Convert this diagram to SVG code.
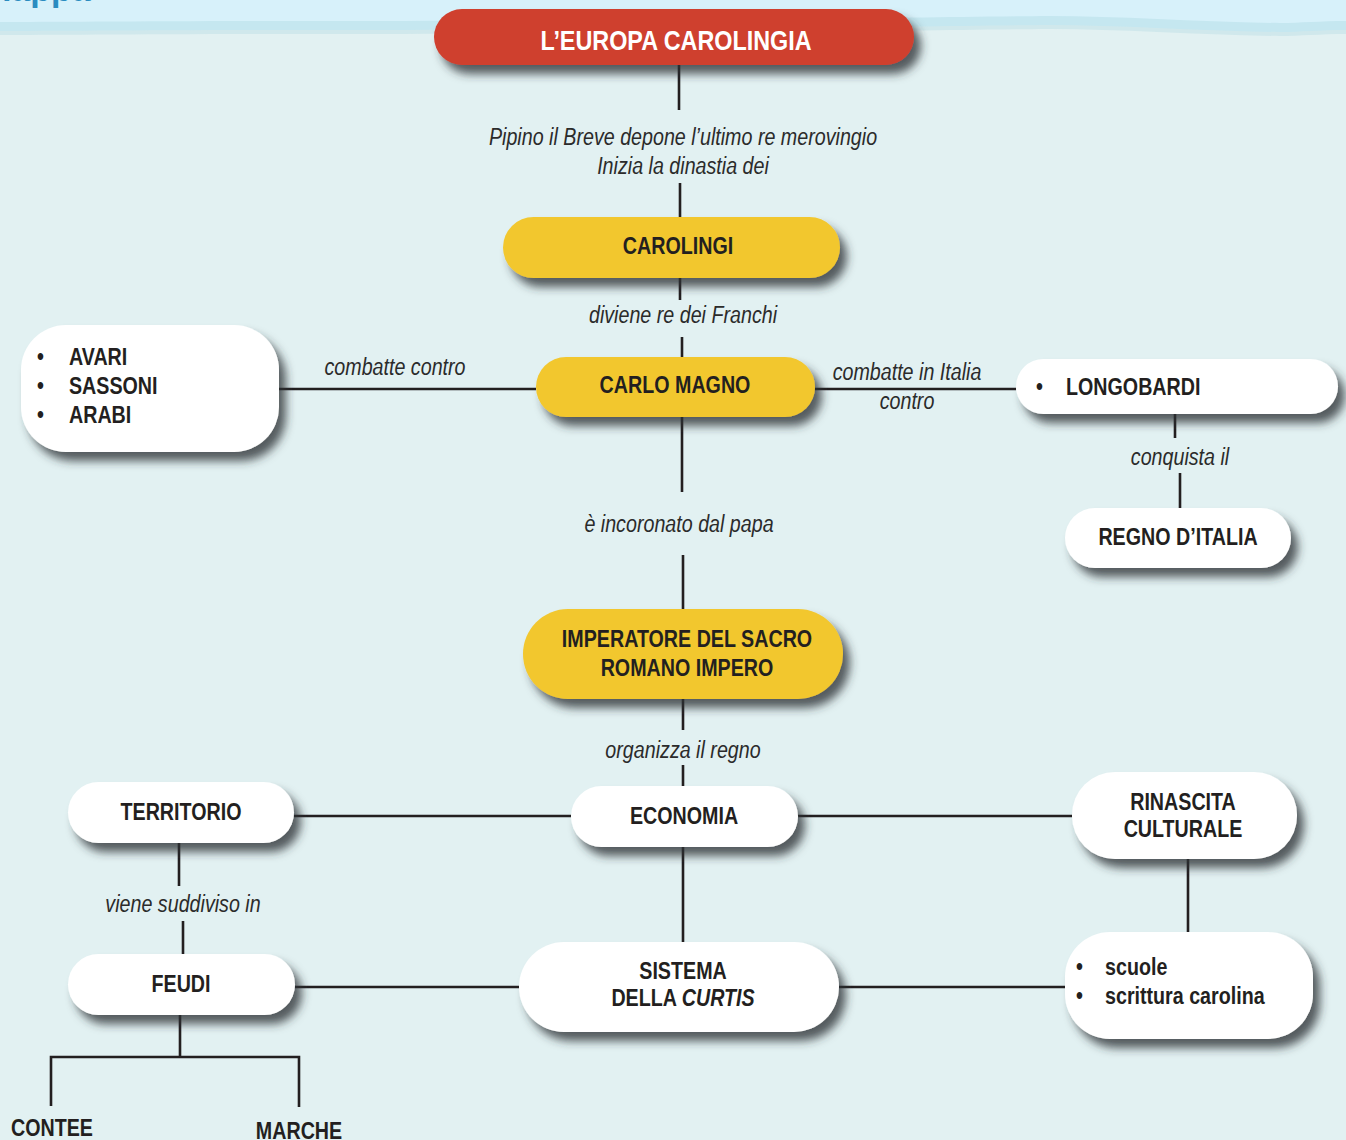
<svg xmlns="http://www.w3.org/2000/svg" xmlns:xlink="http://www.w3.org/1999/xlink" width="1346" height="1140" viewBox="0 0 1346 1140">
<defs>
<style>
.ln{stroke:#231f20;stroke-width:2.6;fill:none}
.nt{font-family:"Liberation Sans",Arial,sans-serif;font-weight:bold;font-size:24px;fill:#231f20;text-anchor:middle}
.lt{text-anchor:start}
.lb{font-family:"Liberation Sans",Arial,sans-serif;font-style:italic;font-size:24px;fill:#2b2b2b;text-anchor:middle}
.w{fill:#ffffff}
.y{fill:#f2c72f}
.r{fill:#cf3f2e}
</style>
<filter id="sh" x="-15%" y="-30%" width="140%" height="180%">
<feDropShadow dx="7" dy="9" stdDeviation="5" flood-color="#2c3234" flood-opacity="0.78"/>
</filter>
<path id="wave" d="M0,-40 H1346 V21 C1320,21 1300,23 1280,23 C1200,22 1120,16 1050,16 C950,17 900,18 800,19 C600,20 450,21 300,21 C150,21 50,22 0,22 Z"/>
</defs>

<rect x="0" y="0" width="1346" height="1140" fill="#e2f1f2"/>
<use xlink:href="#wave" fill="#d0e8ec" transform="translate(0,13)"/>
<use xlink:href="#wave" fill="#c5e7f0" transform="translate(0,9)"/>
<use xlink:href="#wave" fill="#d7f1fa"/>
<text x="-19" y="1" font-family="Liberation Sans,Arial,sans-serif" font-weight="bold" font-size="34" fill="#2a8cc0">mappa</text>

<g id="connectors">
<line class="ln" x1="679" y1="65" x2="679" y2="110"/>
<line class="ln" x1="680" y1="183" x2="680" y2="217"/>
<line class="ln" x1="680" y1="278" x2="680" y2="300"/>
<line class="ln" x1="682" y1="337" x2="682" y2="357"/>
<line class="ln" x1="279" y1="389" x2="536" y2="389"/>
<line class="ln" x1="815" y1="389" x2="1016" y2="389"/>
<line class="ln" x1="682" y1="417" x2="682" y2="492"/>
<line class="ln" x1="683" y1="555" x2="683" y2="609"/>
<line class="ln" x1="1175" y1="414" x2="1175" y2="438"/>
<line class="ln" x1="1180" y1="473" x2="1180" y2="508"/>
<line class="ln" x1="683" y1="699" x2="683" y2="730"/>
<line class="ln" x1="683" y1="765" x2="683" y2="786"/>
<line class="ln" x1="294" y1="816" x2="571" y2="816"/>
<line class="ln" x1="798" y1="816" x2="1072" y2="816"/>
<line class="ln" x1="683" y1="847" x2="683" y2="942"/>
<line class="ln" x1="1188" y1="859" x2="1188" y2="932"/>
<line class="ln" x1="179" y1="843" x2="179" y2="886"/>
<line class="ln" x1="183" y1="921" x2="183" y2="954"/>
<line class="ln" x1="295" y1="987" x2="519" y2="987"/>
<line class="ln" x1="839" y1="987" x2="1065" y2="987"/>
<path class="ln" d="M180,1015 V1057 M51,1106 V1057 H299 V1107"/>

<text class="lb" transform="translate(683,145) scale(0.82,1)">Pipino il Breve depone l’ultimo re merovingio</text>
<text class="lb" transform="translate(683,174) scale(0.82,1)">Inizia la dinastia dei</text>
<text class="lb" transform="translate(683,323) scale(0.82,1)">diviene re dei Franchi</text>
<text class="lb" transform="translate(395,375) scale(0.82,1)">combatte contro</text>
<text class="lb" transform="translate(907,380) scale(0.82,1)">combatte in Italia</text>
<text class="lb" transform="translate(907,409) scale(0.82,1)">contro</text>
<text class="lb" transform="translate(1180,465) scale(0.82,1)">conquista il</text>
<text class="lb" transform="translate(679,532) scale(0.82,1)">è incoronato dal papa</text>
<text class="lb" transform="translate(683,758) scale(0.82,1)">organizza il regno</text>
<text class="lb" transform="translate(183,912) scale(0.82,1)">viene suddiviso in</text>
</g>

<g id="n-title">
<rect class="r" x="434" y="9" width="480" height="56" rx="28" filter="url(#sh)"/>
<text class="nt" style="font-size:28.5px;fill:#fff" transform="translate(676,50) scale(0.82,1)">L’EUROPA CAROLINGIA</text>
</g>

<g id="n-carolingi">
<rect class="y" x="503" y="217" width="337" height="61" rx="30.5" filter="url(#sh)"/>
<text class="nt" transform="translate(678,254) scale(0.82,1)">CAROLINGI</text>
</g>

<g id="n-carlo">
<rect class="y" x="536" y="357" width="279" height="60" rx="30" filter="url(#sh)"/>
<text class="nt" transform="translate(675,393) scale(0.82,1)">CARLO MAGNO</text>
</g>

<g id="n-avari">
<rect class="w" x="21" y="325" width="258" height="127" rx="45" filter="url(#sh)"/>
<text class="nt lt" transform="translate(37,365) scale(0.82,1)">•</text>
<text class="nt lt" transform="translate(69,365) scale(0.82,1)">AVARI</text>
<text class="nt lt" transform="translate(37,394) scale(0.82,1)">•</text>
<text class="nt lt" transform="translate(69,394) scale(0.82,1)">SASSONI</text>
<text class="nt lt" transform="translate(37,423) scale(0.82,1)">•</text>
<text class="nt lt" transform="translate(69,423) scale(0.82,1)">ARABI</text>
</g>

<g id="n-longobardi">
<rect class="w" x="1016" y="359" width="322" height="55" rx="27.5" filter="url(#sh)"/>
<text class="nt lt" transform="translate(1036,395) scale(0.82,1)">•</text>
<text class="nt lt" transform="translate(1066,395) scale(0.82,1)">LONGOBARDI</text>
</g>

<g id="n-regno">
<rect class="w" x="1065" y="508" width="226" height="60" rx="30" filter="url(#sh)"/>
<text class="nt" transform="translate(1178,545) scale(0.82,1)">REGNO D’ITALIA</text>
</g>

<g id="n-imperatore">
<rect class="y" x="523" y="609" width="320" height="90" rx="45" filter="url(#sh)"/>
<text class="nt" transform="translate(687,647) scale(0.82,1)">IMPERATORE DEL SACRO</text>
<text class="nt" transform="translate(687,676) scale(0.82,1)">ROMANO IMPERO</text>
</g>

<g id="n-economia">
<rect class="w" x="571" y="786" width="227" height="61" rx="30.5" filter="url(#sh)"/>
<text class="nt" transform="translate(684,824) scale(0.82,1)">ECONOMIA</text>
</g>

<g id="n-territorio">
<rect class="w" x="68" y="782" width="226" height="61" rx="30.5" filter="url(#sh)"/>
<text class="nt" transform="translate(181,820) scale(0.82,1)">TERRITORIO</text>
</g>

<g id="n-rinascita">
<rect class="w" x="1072" y="772" width="225" height="87" rx="43" filter="url(#sh)"/>
<text class="nt" transform="translate(1183,810) scale(0.82,1)">RINASCITA</text>
<text class="nt" transform="translate(1183,837) scale(0.82,1)">CULTURALE</text>
</g>

<g id="n-sistema">
<rect class="w" x="519" y="942" width="320" height="90" rx="45" filter="url(#sh)"/>
<text class="nt" transform="translate(683,979) scale(0.82,1)">SISTEMA</text>
<text class="nt" transform="translate(683,1006) scale(0.82,1)">DELLA <tspan font-style="italic">CURTIS</tspan></text>
</g>

<g id="n-scuole">
<rect class="w" x="1065" y="932" width="248" height="107" rx="45" filter="url(#sh)"/>
<text class="nt lt" transform="translate(1076,975) scale(0.82,1)">•</text>
<text class="nt lt" transform="translate(1105,975) scale(0.82,1)">scuole</text>
<text class="nt lt" transform="translate(1076,1004) scale(0.82,1)">•</text>
<text class="nt lt" transform="translate(1105,1004) scale(0.82,1)">scrittura carolina</text>
</g>

<g id="n-feudi">
<rect class="w" x="68" y="954" width="227" height="61" rx="30.5" filter="url(#sh)"/>
<text class="nt" transform="translate(181,992) scale(0.82,1)">FEUDI</text>
</g>

<g id="n-contee">
<text class="nt" transform="translate(52,1136) scale(0.82,1)">CONTEE</text>
</g>

<g id="n-marche">
<text class="nt" transform="translate(299,1139) scale(0.82,1)">MARCHE</text>
</g>
</svg>
